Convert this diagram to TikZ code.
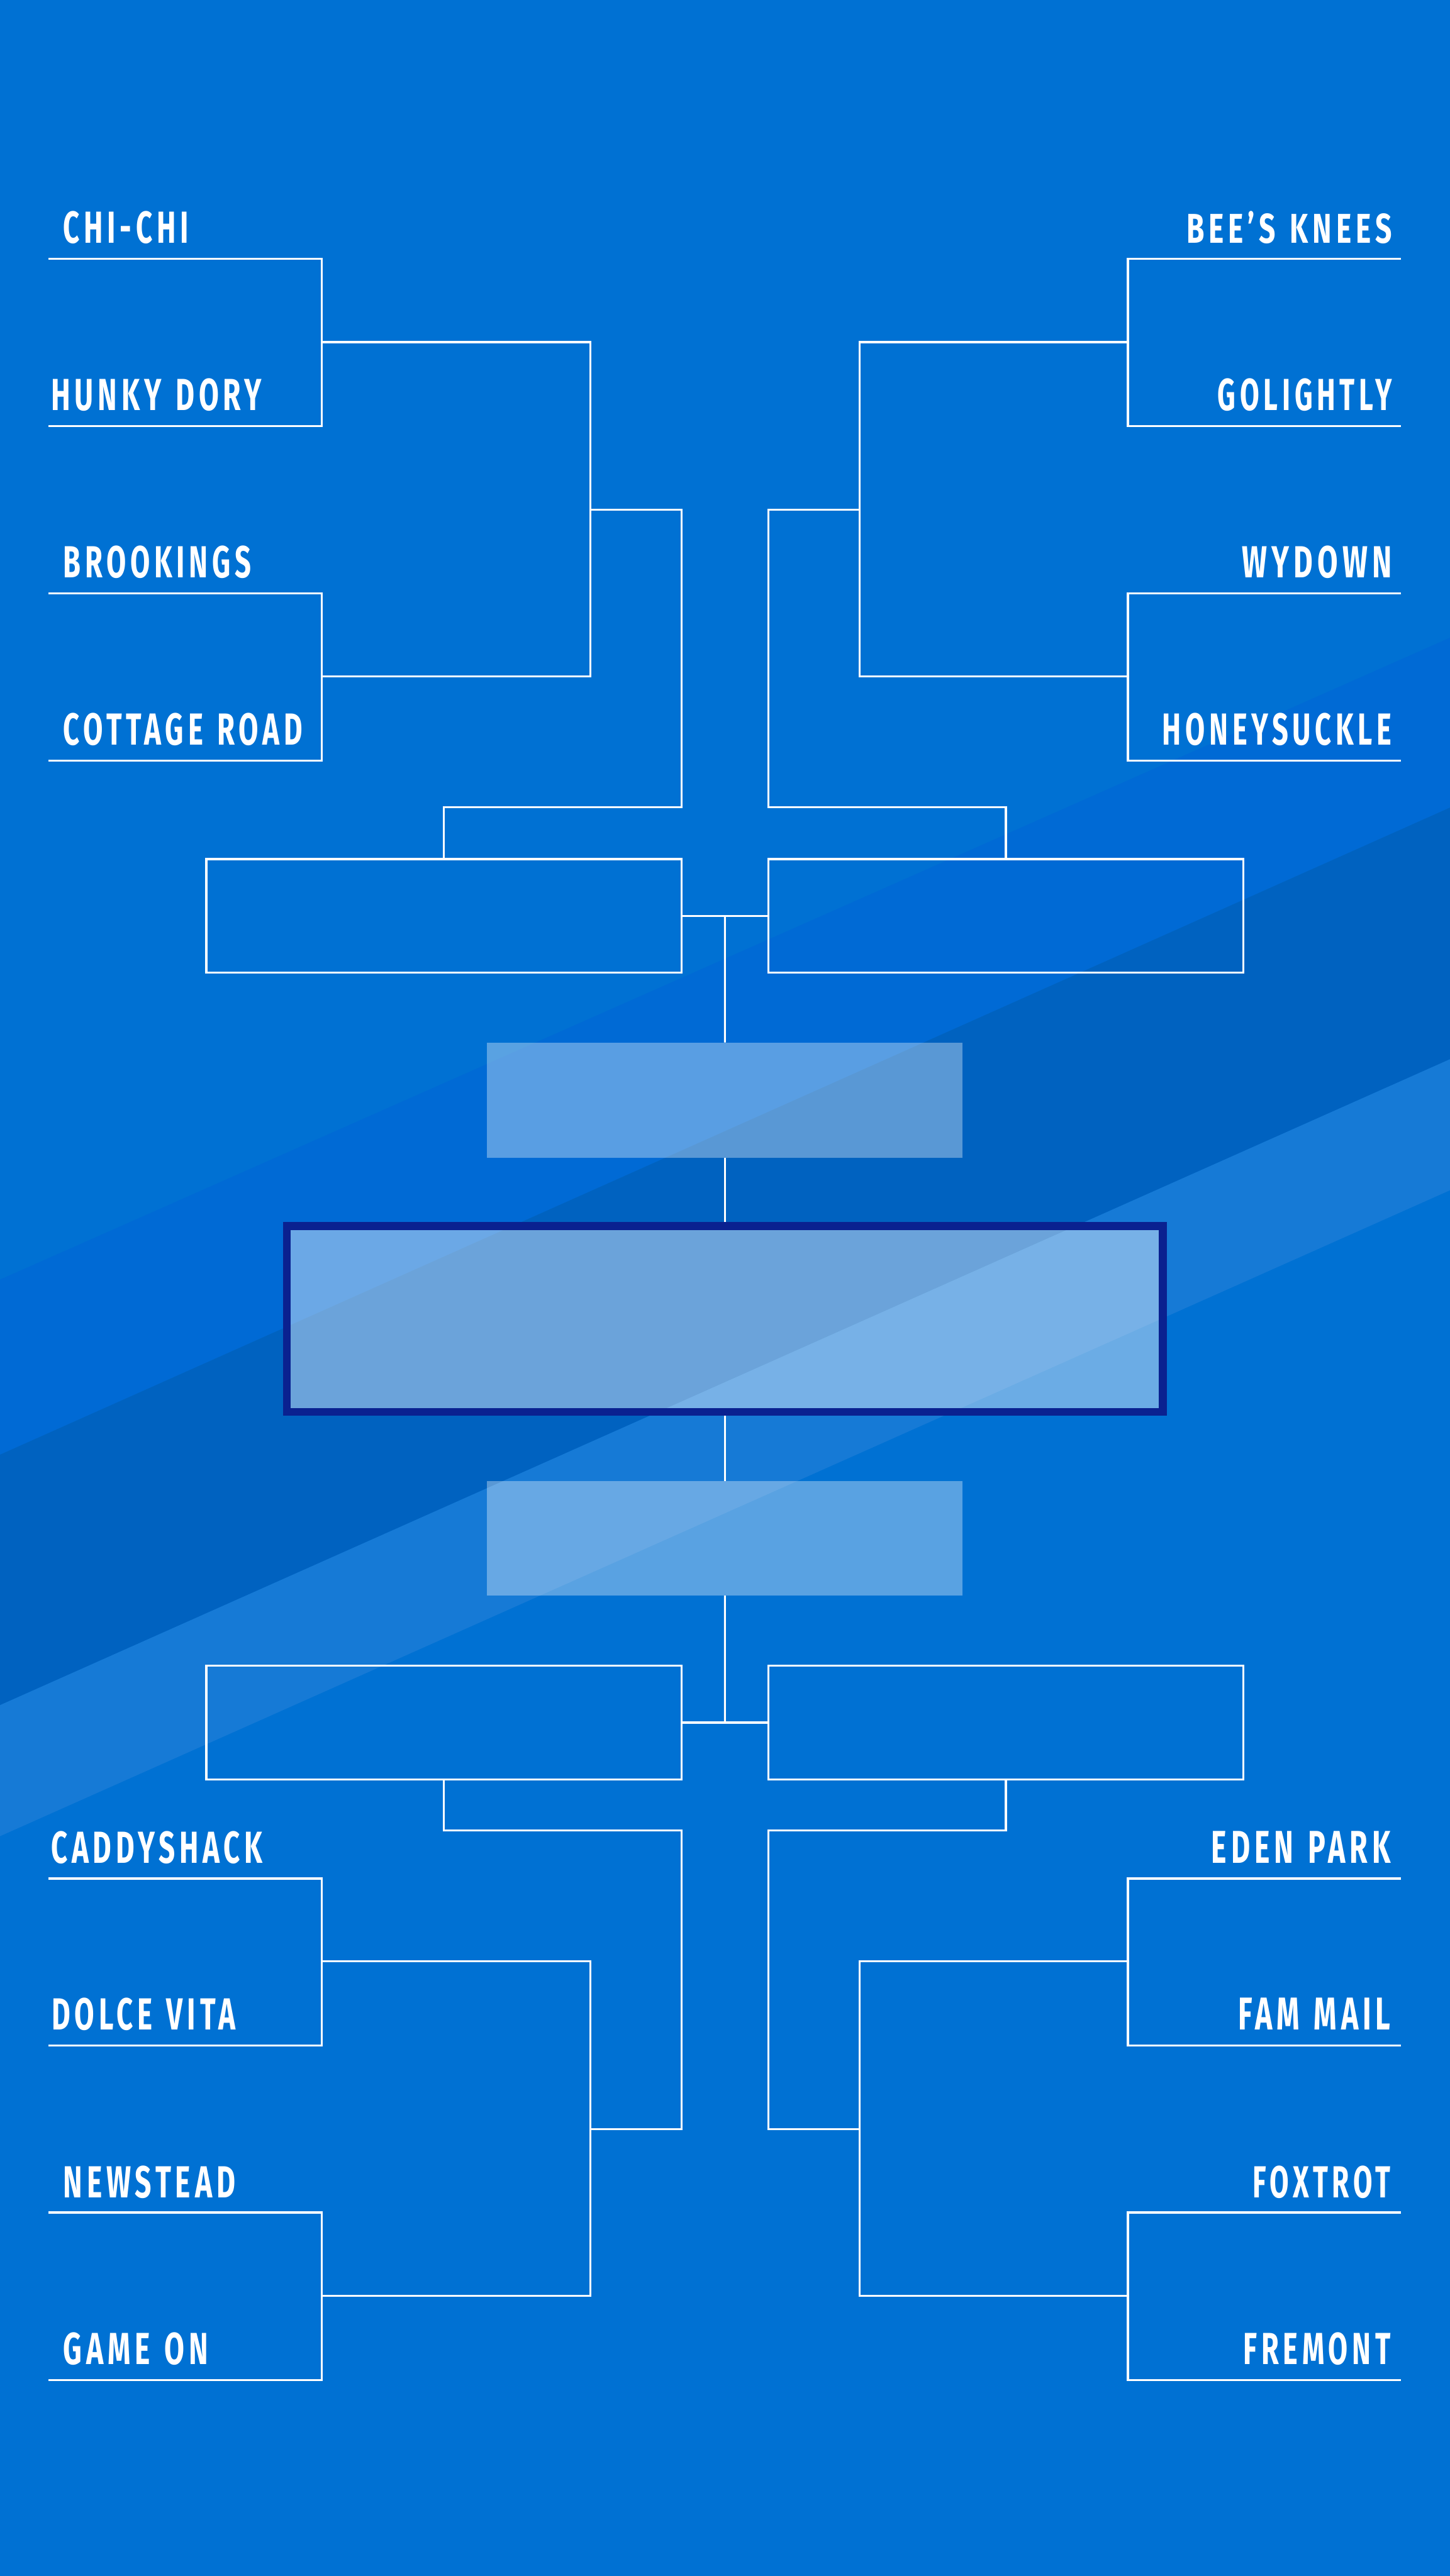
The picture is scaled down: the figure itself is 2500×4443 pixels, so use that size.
\documentclass[tikz,border=0pt]{standalone}
\usepackage{fontspec}
\usepackage{graphicx}
\newfontfamily\labfont{Fira Sans}[LetterSpace=15]
\newlength\pxu
\setlength\pxu{0.1mm}
\newcommand\lbl[2]{\resizebox{#1\pxu}{55\pxu}{\labfont\bfseries #2}}
\newcommand\ws{\hspace{0.49em}}
\definecolor{bgbase}{HTML}{0071D3}
\definecolor{bgsubtle}{HTML}{006AD5}
\definecolor{bgdark}{HTML}{0062C0}
\definecolor{bglight}{HTML}{167AD6}
\definecolor{champnavy}{HTML}{0A2190}
\tikzset{
  wl/.style={draw=white, line width=0.35mm},
  wbox/.style={draw=white, line width=0.35mm, minimum width=81.95mm, minimum height=19.55mm, inner sep=0pt},
  lbox/.style={fill=white, fill opacity=0.35, minimum width=82mm, minimum height=19.9mm, inner sep=0pt, outer sep=0pt},
  champbox/.style={draw=champnavy, line width=1.35mm, fill=white, fill opacity=0.42, minimum width=151.05mm, minimum height=32.05mm, inner sep=0pt},
  lblL/.style={anchor=base west, inner sep=0pt, outer sep=0pt, text=white},
  lblR/.style={anchor=base east, inner sep=0pt, outer sep=0pt, text=white}
}
\begin{document}
\begin{tikzpicture}[x=0.1mm, y=-0.1mm]
\useasboundingbox (0,0) rectangle (2500,4443);
% background
\fill[bgbase] (0,0) rectangle (2500,4443);
\fill[bgsubtle] (0,2207) -- (2500,1100) -- (2500,1393) -- (0,2509) -- cycle;
\fill[bgdark] (0,2509) -- (2500,1393) -- (2500,1827) -- (0,2941) -- cycle;
\fill[bglight] (0,2941) -- (2500,1827) -- (2500,2053) -- (0,3167) -- cycle;

% boxes
\node[wbox] (qTL) at (765.5,1579.5) {};
\node[wbox] (qTR) at (1734.5,1579.5) {};
\node[wbox] (qBL) at (765.5,2971) {};
\node[wbox] (qBR) at (1734.5,2971) {};
\node[lbox] (sfT) at (1250,1897.5) {};
\node[lbox, minimum height=19.8mm] (sfB) at (1250,2653) {};
\node[champbox] (champ) at (1250,2275) {};

% centre connectors
\draw[wl] (qTL.east) -- (qTR.west) coordinate[midway] (cT);
\draw[wl] (cT) -- (sfT.north);
\draw[wl] (sfT.south) -- (champ.north);
\draw[wl] (champ.south) -- (sfB.north);
\draw[wl] (qBL.east) -- (qBR.west) coordinate[midway] (cB);
\draw[wl] (sfB.south) -- (cB);

% top-left bracket
\draw[wl] (84,446) -| (555,735) -- (84,735);
\draw[wl] (84,1023) -| (555,1312) -- (84,1312);
\draw[wl] (555,590) -| (1018,1167) -- (555,1167);
\draw[wl] (1018,879) -| (1175,1392) -| (qTL.north);
% top-right bracket
\draw[wl] (2416,446) -| (1945,735) -- (2416,735);
\draw[wl] (2416,1023) -| (1945,1312) -- (2416,1312);
\draw[wl] (1945,590) -| (1482,1167) -- (1945,1167);
\draw[wl] (1482,879) -| (1325,1392) -| (qTR.north);
% bottom-left bracket
\draw[wl] (84,3240) -| (555,3528) -- (84,3528);
\draw[wl] (84,3816) -| (555,4105) -- (84,4105);
\draw[wl] (555,3383) -| (1018,3960) -- (555,3960);
\draw[wl] (qBL.south) |- (1175,3157) |- (1018,3672);
% bottom-right bracket
\draw[wl] (2416,3240) -| (1945,3528) -- (2416,3528);
\draw[wl] (2416,3816) -| (1945,4105) -- (2416,4105);
\draw[wl] (1945,3383) -| (1482,3960) -- (1945,3960);
\draw[wl] (qBR.south) |- (1325,3157) |- (1482,3672);

% labels left
\node[lblL] (chichi) at (109,419) {\lbl{216.5}{CHI-CHI}};
\node[lblL] (hunky) at (88,708) {\lbl{363.5}{HUNKY\ws DORY}};
\node[lblL] (brook) at (109,996) {\lbl{324.5}{BROOKINGS}};
\node[lblL] (cottage) at (109,1285) {\lbl{412.5}{COTTAGE\ws ROAD}};
\node[lblL] (caddy) at (88,3213) {\lbl{365}{CADDYSHACK}};
\node[lblL] (dolce) at (89,3501) {\lbl{317}{DOLCE\ws VITA}};
\node[lblL] (newstead) at (109,3790) {\lbl{297}{NEWSTEAD}};
\node[lblL] (gameon) at (109,4078) {\lbl{250}{GAME\ws ON}};
% labels right
\node[lblR] (bees) at (2400,419) {\lbl{354}{BEE’S\ws KNEES}};
\node[lblR] (golightly) at (2400,708) {\lbl{300}{GOLIGHTLY}};
\node[lblR] (wydown) at (2400,996) {\lbl{258}{WYDOWN}};
\node[lblR] (honey) at (2400,1285) {\lbl{396}{HONEYSUCKLE}};
\node[lblR] (eden) at (2398,3213) {\lbl{309}{EDEN\ws PARK}};
\node[lblR] (fammail) at (2398,3501) {\lbl{263}{FAM\ws MAIL}};
\node[lblR] (foxtrot) at (2398,3790) {\lbl{238}{FOXTROT}};
\node[lblR] (fremont) at (2398,4078) {\lbl{254}{FREMONT}};
\end{tikzpicture}
\end{document}
